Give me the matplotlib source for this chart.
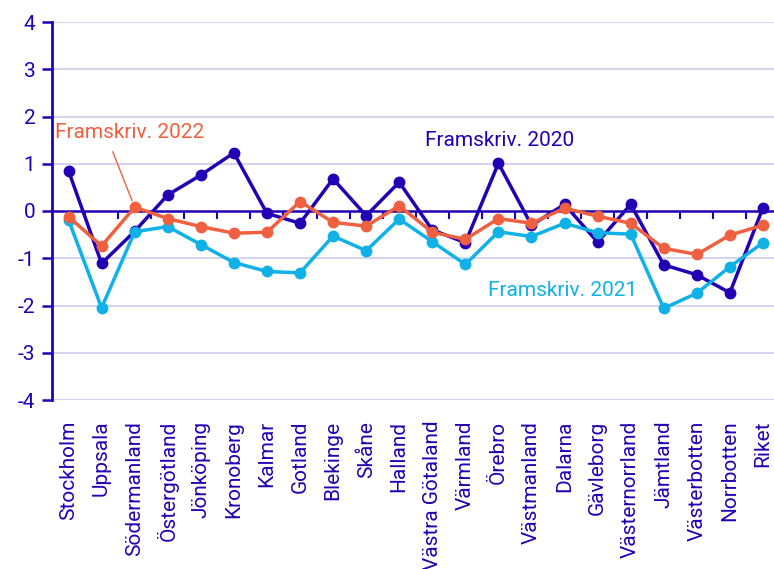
import matplotlib
matplotlib.use("Agg")
import matplotlib.pyplot as plt

plt.rcParams['font.family'] = ['Roboto', 'DejaVu Sans']
plt.rcParams['axes.unicode_minus'] = False

lan = ["Stockholm", "Uppsala", "Södermanland", "Östergötland", "Jönköping",
       "Kronoberg", "Kalmar", "Gotland", "Blekinge", "Skåne", "Halland",
       "Västra Götaland", "Värmland", "Örebro", "Västmanland", "Dalarna",
       "Gävleborg", "Västernorrland", "Jämtland", "Västerbotten", "Norrbotten",
       "Riket"]

fram_2020 = [0.85, -1.11, -0.43, 0.34, 0.76, 1.23, -0.05, -0.26, 0.68, -0.10, 0.61,
             -0.40, -0.67, 1.01, -0.30, 0.14, -0.66, 0.14, -1.14, -1.35, -1.73, 0.07]
fram_2021 = [-0.19, -2.05, -0.44, -0.33, -0.71, -1.09, -1.28, -1.31, -0.53, -0.84, -0.17,
             -0.65, -1.13, -0.44, -0.54, -0.26, -0.46, -0.49, -2.06, -1.74, -1.18, -0.67]
fram_2022 = [-0.12, -0.74, 0.08, -0.16, -0.33, -0.47, -0.45, 0.20, -0.24, -0.32, 0.11,
             -0.45, -0.60, -0.16, -0.26, 0.06, -0.11, -0.26, -0.79, -0.92, -0.51, -0.30]

dark = "#2200b4"
light = "#0fb1e6"
orange = "#ef6040"
grid = "#d4d4ee"

W, H = 774, 569
fig = plt.figure(figsize=(W / 100, H / 100), dpi=100)
ax = fig.add_axes([52 / W, 1 - 400 / H, (779.5 - 52) / W, (400 - 22) / H])

x = list(range(len(lan)))
ax.plot(x, fram_2020, color=dark, lw=2.5, marker="o", ms=7.5, zorder=3)
ax.plot(x, fram_2021, color=light, lw=2.5, marker="o", ms=7.5, zorder=4)
ax.plot(x, fram_2022, color=orange, lw=2.5, marker="o", ms=7.5, zorder=5)

ax.set_xlim(-0.5, len(lan) - 0.5)
ax.set_ylim(-4, 4)
ax.set_yticks(range(-4, 5))
for v in range(-4, 5):
    if v != 0:
        ax.axhline(v, color=grid, lw=1.5, zorder=1)

for s in ["top", "right"]:
    ax.spines[s].set_visible(False)
ax.spines["left"].set_color(dark)
ax.spines["left"].set_linewidth(2)
ax.spines["bottom"].set_position(("data", 0))
ax.spines["bottom"].set_color(dark)
ax.spines["bottom"].set_linewidth(1.8)
ax.spines["bottom"].set_zorder(2)

ax.tick_params(axis="y", colors=dark, labelsize=15, length=7, width=1.8, pad=5)
ax.set_xticks([i + 0.5 for i in x[:-1]])
ax.set_xticklabels([])
ax.tick_params(axis="x", colors=dark, length=6, width=1.5, direction="out")

sec = ax.secondary_xaxis(0.0)
sec.set_xticks(x)
sec.set_xticklabels(lan, rotation=90, fontsize=15, color=dark)
sec.tick_params(length=0, pad=15)
sec.spines["bottom"].set_visible(False)

fig.text(55 / W, 1 - 132 / H, "Framskriv. 2022", color=orange, fontsize=15, va="center")
ax.annotate("", xy=(2, fram_2022[2]), xycoords="data",
            xytext=(112.7, H - 151.7), textcoords="figure pixels",
            arrowprops=dict(arrowstyle="-", color=orange, lw=1, shrinkA=0, shrinkB=5))
fig.text(425 / W, 1 - 140 / H, "Framskriv. 2020", color=dark, fontsize=15, va="center")
fig.text(488 / W, 1 - 290 / H, "Framskriv. 2021", color=light, fontsize=15, va="center")

fig.savefig("out.png", dpi=100)
